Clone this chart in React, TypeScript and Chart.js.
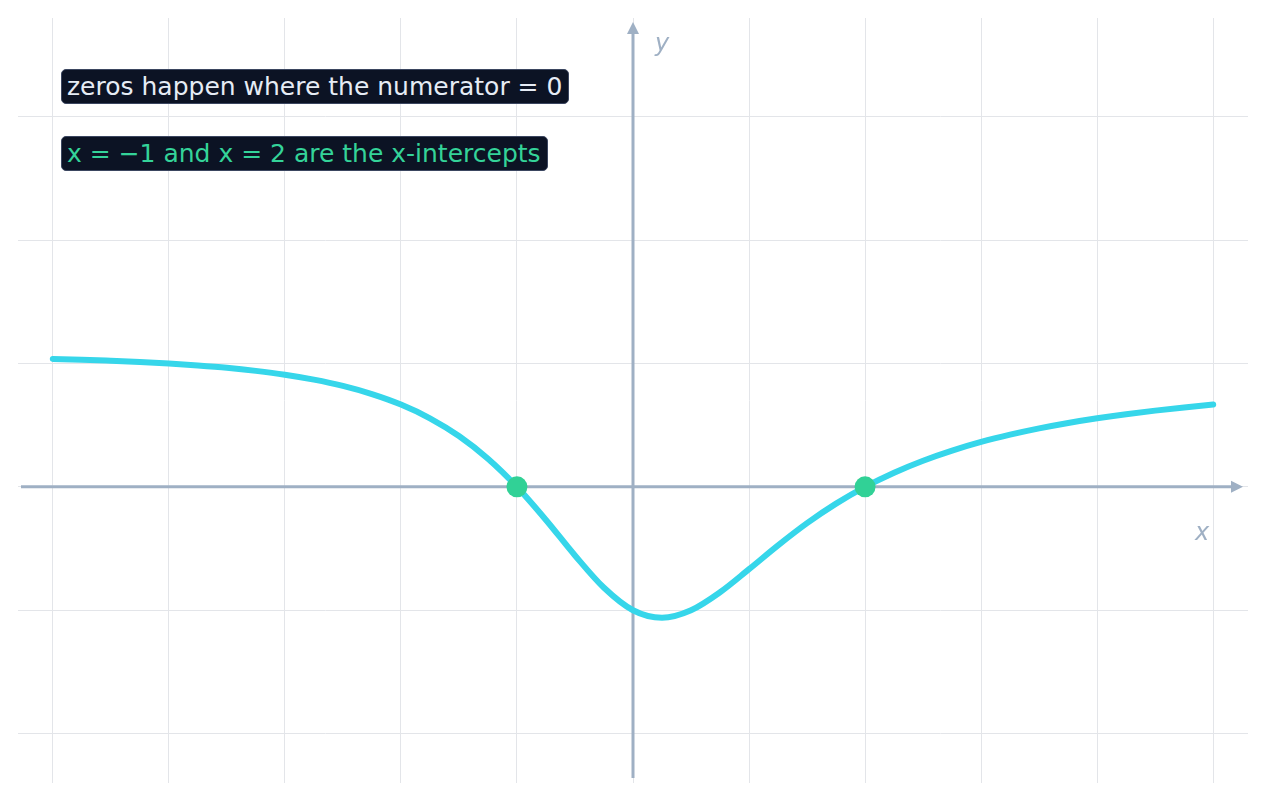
import { useEffect, useRef } from "react"
import { Chart, registerables } from "chart.js"

Chart.register(...registerables)

// curve samples
const xs = [
  -5, -4.75, -4.5, -4.25, -4, -3.75, -3.5, -3.25, -3, -2.75, -2.5, -2.25, -2, -1.75, -1.5, -1.25, -1,
  -0.75, -0.5, -0.25, 0, 0.25, 0.5, 0.75, 1, 1.25, 1.5, 1.75, 2, 2.25, 2.5, 2.75, 3, 3.25, 3.5, 3.75,
  4, 4.25, 4.5, 4.75, 5,
]
const ys = [
  1.037, 1.031, 1.022, 1.012, 1.0, 0.984, 0.965, 0.94, 0.909, 0.869, 0.818, 0.752, 0.667, 0.556, 0.412,
  0.228, 0, -0.268, -0.556, -0.818, -1.0, -1.061, -1.0, -0.854, -0.667, -0.474, -0.294, -0.136, 0, 0.115,
  0.212, 0.294, 0.364, 0.423, 0.474, 0.518, 0.556, 0.589, 0.618, 0.644, 0.667,
]
const zeroXs = [-1, 2]
const zeroYs = [0, 0]

const notes = ["zeros happen where the numerator = 0", "x = \u22121 and x = 2 are the x-intercepts"]

const AXIS = "#9fb0c4"

const axesPlugin = {
  id: "axes",
  beforeDatasetsDraw(chart: any) {
    const { ctx, chartArea, scales } = chart
    const y0 = scales.y.getPixelForValue(0)
    const x0 = scales.x.getPixelForValue(0)
    ctx.save()
    ctx.strokeStyle = AXIS
    ctx.fillStyle = AXIS
    ctx.lineWidth = 3
    // x axis
    const xr = chartArea.right - 5
    ctx.beginPath()
    ctx.moveTo(chartArea.left + 3, y0)
    ctx.lineTo(xr - 10, y0)
    ctx.stroke()
    ctx.beginPath()
    ctx.moveTo(xr, y0)
    ctx.lineTo(xr - 12, y0 - 6)
    ctx.lineTo(xr - 12, y0 + 6)
    ctx.closePath()
    ctx.fill()
    // y axis
    const yt = chartArea.top + 4
    ctx.beginPath()
    ctx.moveTo(x0, chartArea.bottom - 5)
    ctx.lineTo(x0, yt + 10)
    ctx.stroke()
    ctx.beginPath()
    ctx.moveTo(x0, yt)
    ctx.lineTo(x0 - 6, yt + 12)
    ctx.lineTo(x0 + 6, yt + 12)
    ctx.closePath()
    ctx.fill()
    ctx.restore()
  },
}

export default function App() {
  const canvasRef = useRef<HTMLCanvasElement>(null)

  useEffect(() => {
    document.body.style.margin = "0"
    if (!canvasRef.current) return

    const chart = new Chart(canvasRef.current, {
      type: "scatter",
      data: {
        datasets: [
          // first dataset is drawn on top
          {
            data: zeroXs.map((x, i) => ({ x, y: zeroYs[i] })),
            pointRadius: 10.5,
            pointBackgroundColor: "#31d196",
            pointBorderWidth: 0,
          },
          {
            data: xs.map((x, i) => ({ x, y: ys[i] })),
            showLine: true,
            borderColor: "#36d6ea",
            borderWidth: 6,
            pointRadius: 0,
            cubicInterpolationMode: "monotone",
            borderCapStyle: "round",
          },
        ],
      },
      options: {
        responsive: false,
        animation: false,
        layout: { padding: { left: 18, right: 18, top: 18, bottom: 18 } },
        plugins: { legend: { display: false }, tooltip: { enabled: false } },
        scales: {
          x: {
            type: "linear",
            min: -5.3,
            max: 5.3,
            ticks: { display: false, stepSize: 1, includeBounds: false },
            grid: { color: "#e3e5e9", drawTicks: false },
            border: { display: false },
          },
          y: {
            type: "linear",
            min: -2.4,
            max: 3.8,
            ticks: { display: false, stepSize: 1, includeBounds: false },
            grid: { color: "#e3e5e9", drawTicks: false },
            border: { display: false },
          },
        },
      },
      plugins: [axesPlugin],
    })

    return () => chart.destroy()
  }, [])

  const boxStyle = (top: number, color: string): React.CSSProperties => ({
    position: "absolute",
    left: 61,
    top,
    height: 35,
    boxSizing: "border-box",
    padding: "0 6px 0 5px",
    lineHeight: "33px",
    background: "#0c1324",
    border: "1px solid #3b4660",
    borderRadius: 5,
    color,
    fontSize: 25,
    whiteSpace: "nowrap",
  })

  return (
    <div style={{ position: "relative", width: 1266, height: 801, fontFamily: "'DejaVu Sans', sans-serif" }}>
      <canvas ref={canvasRef} width={1266} height={801} />
      <div style={boxStyle(69, "#e6ecf5")}>{notes[0]}</div>
      <div style={boxStyle(136, "#34d399")}>{notes[1]}</div>
      <div style={{ position: "absolute", left: 655, top: 29, color: AXIS, fontSize: 24, fontStyle: "italic" }}>y</div>
      <div style={{ position: "absolute", left: 1195, top: 518, color: AXIS, fontSize: 24, fontStyle: "italic" }}>x</div>
    </div>
  )
}
